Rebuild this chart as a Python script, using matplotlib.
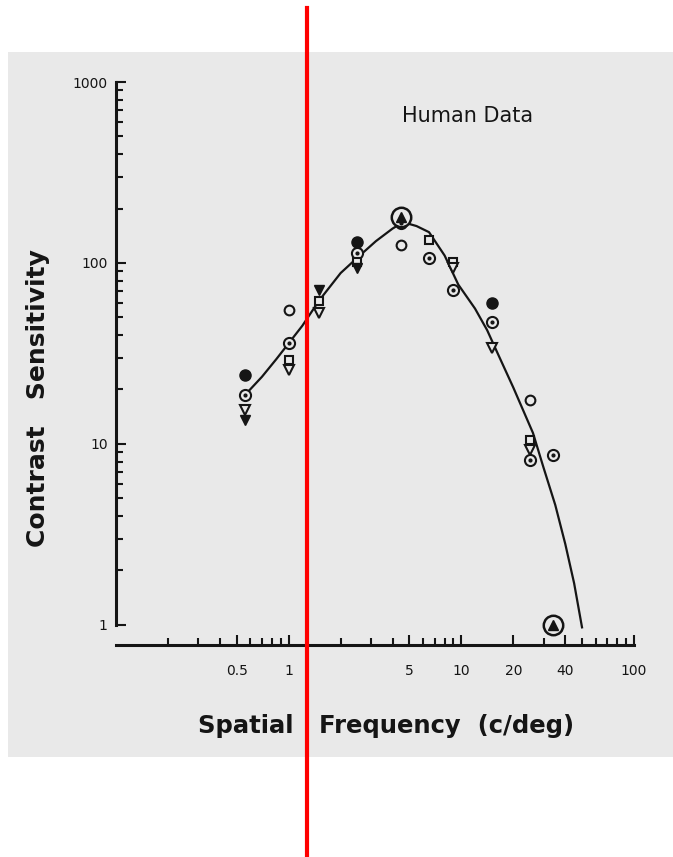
import numpy as np
import matplotlib.pyplot as plt
from matplotlib.patches import Rectangle
from matplotlib.lines import Line2D
from matplotlib.ticker import LogLocator, FixedLocator, FixedFormatter, NullFormatter

# fitted curve (c/deg, sensitivity)
curve_freq = [0.56, 0.7, 0.85, 1.0, 1.2, 1.5, 2.0, 2.5, 3.2, 4.0, 4.6, 5.5, 6.5, 8.0, 9.6, 12.0, 14.1, 16.4, 20.0, 26.0, 29.8, 35.0, 40.0, 45.0, 50.0]
curve_sens = [18.7, 23.5, 29.5, 36.0, 45.0, 62.0, 88.0, 107.0, 132.0, 155.0, 168.0, 160.0, 148.0, 110.0, 76.0, 56.0, 42.6, 31.0, 20.5, 11.5, 7.5, 4.6, 2.8, 1.7, 0.97]

# data points per symbol
filled_freq = [0.56, 2.5, 15.0]
filled_sens = [24.0, 131.0, 60.0]
open_freq = [1.0, 4.5, 25.0]
open_sens = [55.0, 126.0, 17.5]
dot_freq = [0.56, 1.0, 2.5, 4.5, 6.5, 9.0, 15.0, 25.0, 34.0]
dot_sens = [18.7, 36.0, 114.0, 166.0, 106.0, 71.0, 47.0, 8.2, 8.7]
square_freq = [1.0, 1.5, 2.5, 6.5, 9.0, 25.0]
square_sens = [29.0, 62.0, 101.0, 134.0, 101.0, 10.5]
tri_freq = [0.56, 1.0, 1.5, 9.0, 15.0, 25.0]
tri_sens = [15.5, 25.7, 53.0, 94.0, 34.0, 9.3]
trifill_freq = [0.56, 1.5, 2.5]
trifill_sens = [13.5, 71.0, 94.0]
big_freq = [4.5, 34.0]
big_sens = [180.0, 1.0]

x_ticks = [0.5, 1, 5, 10, 20, 40, 100]
x_labels = ['0.5', '1', '5', '10', '20', '40', '100']
y_ticks = [1, 10, 100, 1000]
y_labels = ['1', '10', '100', '1000']
y_minor = [m * d for d in (1, 10, 100) for m in range(2, 10)]

ink = '#151515'
bg = '#e9e9e9'

fig = plt.figure(figsize=(6.73, 8.57), dpi=100)
fig.patch.set_facecolor('white')
fig.add_artist(Rectangle((8 / 673, 1 - 757 / 857), 665 / 673, 705 / 857,
                         transform=fig.transFigure, facecolor=bg, edgecolor='none', zorder=0))

ax = fig.add_axes([116 / 673, 1 - 645 / 857, 518 / 673, 563 / 857])
ax.set_facecolor('none')
ax.set_xscale('log')
ax.set_yscale('log')
ax.set_xlim(0.1, 100)
ax.set_ylim(0.775, 1000)

ax.plot(curve_freq, curve_sens, color=ink, lw=1.6, zorder=2)

ms = 7
ax.plot(filled_freq, filled_sens, 'o', ms=ms + 1, mfc=ink, mec=ink, zorder=3)
ax.plot(open_freq, open_sens, 'o', ms=ms, mfc=bg, mec=ink, mew=1.5, zorder=3)
ax.plot(dot_freq, dot_sens, 'o', ms=ms + 1, mfc=bg, mec=ink, mew=1.5, zorder=3)
ax.plot(dot_freq, dot_sens, '.', ms=4, color=ink, zorder=4)
ax.plot(square_freq, square_sens, 's', ms=ms - 1, mfc=bg, mec=ink, mew=1.5, zorder=3)
ax.plot(tri_freq, tri_sens, 'v', ms=ms, mfc=bg, mec=ink, mew=1.5, zorder=3)
ax.plot(trifill_freq, trifill_sens, 'v', ms=ms, mfc=ink, mec=ink, zorder=3)
ax.plot(big_freq, big_sens, 'o', ms=14, mfc=bg, mec=ink, mew=1.8, zorder=3)
ax.plot(big_freq, big_sens, '^', ms=6.5, mfc=ink, mec=ink, zorder=4)

for side in ['top', 'right']:
    ax.spines[side].set_visible(False)
ax.spines['left'].set_bounds(1, 1000)
ax.spines['left'].set_linewidth(2.2)
ax.spines['bottom'].set_linewidth(2.2)
ax.spines['left'].set_color(ink)
ax.spines['bottom'].set_color(ink)

ax.xaxis.set_major_locator(FixedLocator(x_ticks))
ax.xaxis.set_major_formatter(FixedFormatter(x_labels))
ax.xaxis.set_minor_locator(LogLocator(base=10, subs=np.arange(2, 10)))
ax.xaxis.set_minor_formatter(NullFormatter())
ax.yaxis.set_major_locator(FixedLocator(y_ticks))
ax.yaxis.set_major_formatter(FixedFormatter(y_labels))
ax.yaxis.set_minor_locator(FixedLocator(y_minor))
ax.yaxis.set_minor_formatter(NullFormatter())

ax.tick_params(which='both', direction='in', color=ink, width=1.5)
ax.tick_params(axis='x', which='major', length=7, pad=14, labelsize=10, labelcolor=ink)
ax.tick_params(axis='x', which='minor', length=5)
ax.tick_params(axis='y', which='major', length=7, pad=6, labelsize=10, labelcolor=ink)
ax.tick_params(axis='y', which='minor', length=5)

ax.text(0.678, 0.94, 'Human Data', transform=ax.transAxes, ha='center', va='center',
        fontsize=15, color=ink)

fig.text(386 / 673, 1 - 726 / 857, 'Spatial   Frequency  (c/deg)', ha='center', va='center',
         fontsize=17.5, fontweight='bold', color=ink)
fig.text(38 / 673, 1 - 398 / 857, 'Contrast   Sensitivity', ha='center', va='center',
         rotation=90, fontsize=18, fontweight='bold', color=ink)

# red marker line over the figure
fig.add_artist(Line2D([307 / 673, 307 / 673], [1 - 8 / 857, 0], color='red', lw=3, zorder=10))

fig.savefig('out.png', dpi=100)
